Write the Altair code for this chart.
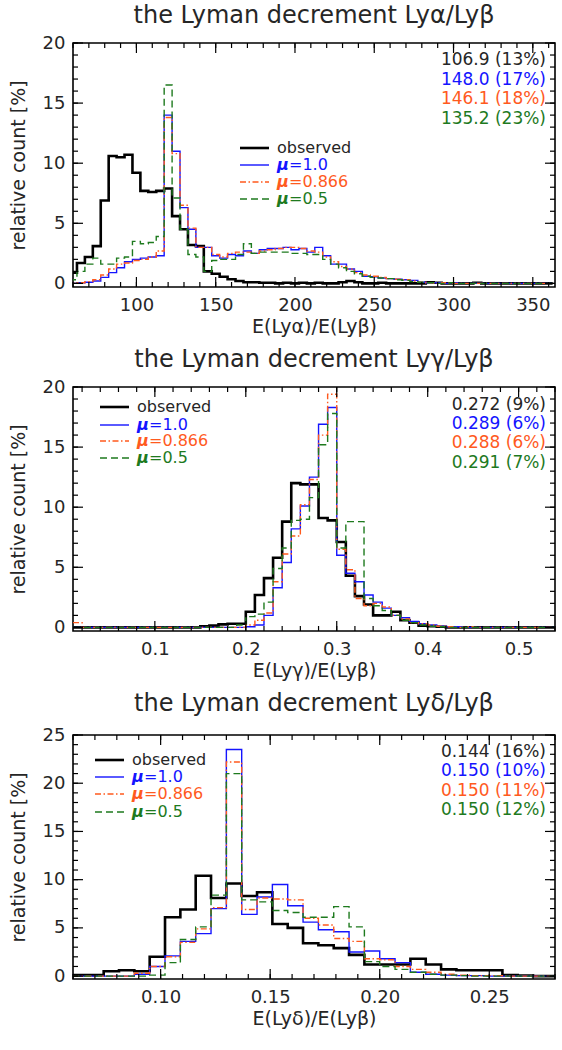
import altair as alt
import numpy as np
import pandas as pd

W, H = 482, 244
FONT = "DejaVu Sans"
INK = "#262626"

# ---------------- Ly-alpha / Ly-beta ----------------
alpha_edge0, alpha_bin = 57.5, 5.0          # first bin edge, bin width (bins centred on 60, 65, ... 360)
alpha_obs = [0.9, 1.7, 2.2, 3.1, 6.9, 10.6, 10.5, 10.7, 9.2, 7.7,
             7.6, 7.7, 7.9, 5.6, 4.5, 3.2, 3.1, 1.0, 0.8, 0.55,
             0.35, 0.2, 0.1, 0.1, 0.05, 0.05, 0.0, 0.05, 0.0, 0.05,
             0.0, 0.05, 0.0, 0.0, 0.1, 0.2, 0.1, 0.0, 0.0, 0.05,
             0.0, 0.0, 0.0, 0.0, 0.0, 0.1, 0.05, 0.0, 0.0, 0.0,
             0.0, 0.05, 0.0, 0.0, 0.0, 0.0, 0.0, 0.0, 0.0, 0.0,
             0.0]
alpha_mu10 = [0.0, 0.05, 0.1, 0.2, 0.5, 0.9, 1.3, 1.8, 2.0, 2.1,
              2.2, 2.3, 14.0, 11.0, 6.3, 4.5, 3.0, 3.0, 2.3, 2.1,
              2.4, 2.3, 2.7, 2.5, 2.8, 2.9, 2.9, 3.0, 2.8, 2.9,
              2.6, 3.0, 2.3, 1.6, 1.6, 1.2, 1.0, 0.6, 0.55, 0.45,
              0.4, 0.35, 0.3, 0.25, 0.1, 0.05, 0.05, 0.0, 0.05, 0.0,
              0.0, 0.0, 0.0, 0.0, 0.0, 0.0, 0.0, 0.0, 0.0, 0.0,
              0.0]
alpha_mu0866 = [0.0, 0.05, 0.15, 0.3, 0.7, 1.2, 1.6, 1.7, 1.9, 2.0,
                2.2, 2.7, 13.8, 10.8, 6.5, 4.6, 3.0, 3.0, 2.4, 2.2,
                2.5, 2.6, 2.6, 2.5, 2.7, 2.8, 2.9, 3.0, 3.0, 2.9,
                2.7, 2.6, 2.2, 1.8, 1.4, 1.2, 0.9, 0.7, 0.6, 0.5,
                0.4, 0.35, 0.3, 0.2, 0.1, 0.05, 0.0, 0.05, 0.0, 0.0,
                0.0, 0.0, 0.0, 0.0, 0.0, 0.0, 0.0, 0.0, 0.0, 0.0,
                0.0]
alpha_mu05 = [0.3, 1.0, 1.6, 2.1, 1.6, 1.6, 2.1, 2.2, 3.5, 3.3,
              3.4, 3.9, 16.5, 7.1, 4.5, 2.4, 2.2, 1.0, 1.9, 2.0,
              2.0, 2.4, 3.3, 2.5, 2.6, 2.6, 2.6, 2.6, 2.5, 2.5,
              2.4, 2.4, 2.0, 1.6, 1.3, 1.0, 0.8, 0.6, 0.5, 0.45,
              0.4, 0.3, 0.25, 0.15, 0.1, 0.05, 0.0, 0.0, 0.05, 0.0,
              0.0, 0.0, 0.0, 0.0, 0.0, 0.0, 0.0, 0.0, 0.0, 0.0,
              0.0]
alpha_stats = ["106.9 (13%)", "148.0 (17%)", "146.1 (18%)", "135.2 (23%)"]

# ---------------- Ly-gamma / Ly-beta ----------------
gamma_edge0, gamma_bin = 0.01, 0.01          # bins centred on 0.015, 0.025, ... 0.535
gamma_obs = [0.0, 0.0, 0.0, 0.0, 0.0, 0.0, 0.0, 0.0, 0.0, 0.0,
             0.0, 0.0, 0.0, 0.0, 0.1, 0.15, 0.25, 0.3, 0.3, 1.3,
             2.7, 4.1, 5.8, 8.8, 12.0, 11.9, 11.9, 9.1, 8.9, 7.1,
             4.3, 2.6, 1.9, 1.0, 1.0, 1.3, 0.6, 0.4, 0.15, 0.1,
             0.05, 0.0, 0.0, 0.0, 0.0, 0.0, 0.0, 0.0, 0.0, 0.0,
             0.0, 0.0, 0.0]
gamma_mu10 = [0.0, 0.0, 0.0, 0.0, 0.0, 0.0, 0.0, 0.0, 0.0, 0.0,
              0.0, 0.0, 0.0, 0.0, 0.0, 0.0, 0.0, 0.0, 0.0, 0.05,
              0.2, 1.0, 3.3, 5.4, 8.2, 10.1, 12.5, 16.9, 18.3, 6.0,
              4.5, 3.8, 2.7, 2.1, 1.6, 1.0, 0.8, 0.5, 0.3, 0.2,
              0.1, 0.05, 0.05, 0.0, 0.0, 0.0, 0.0, 0.0, 0.0, 0.0,
              0.0, 0.0, 0.0]
gamma_mu0866 = [0.4, 0.0, 0.0, 0.0, 0.0, 0.0, 0.0, 0.0, 0.0, 0.0,
                0.0, 0.0, 0.0, 0.0, 0.0, 0.0, 0.0, 0.0, 0.0, 0.2,
                0.6, 1.2, 3.8, 6.1, 7.6, 10.2, 12.3, 16.0, 19.4, 6.5,
                4.8, 2.4, 1.8, 2.0, 1.7, 1.0, 0.7, 0.4, 0.3, 0.2,
                0.1, 0.05, 0.0, 0.05, 0.0, 0.0, 0.0, 0.0, 0.0, 0.0,
                0.0, 0.0, 0.0]
gamma_mu05 = [0.0, 0.0, 0.0, 0.0, 0.0, 0.0, 0.0, 0.0, 0.0, 0.0,
              0.0, 0.0, 0.0, 0.0, 0.0, 0.0, 0.0, 0.0, 0.2, 0.9,
              1.1, 2.1, 4.9, 6.6, 8.9, 9.0, 10.8, 15.2, 17.8, 6.6,
              8.8, 8.8, 2.4, 1.8, 1.4, 1.0, 0.6, 0.4, 0.2, 0.1,
              0.05, 0.0, 0.0, 0.0, 0.0, 0.0, 0.0, 0.0, 0.0, 0.0,
              0.0, 0.0, 0.0]
gamma_stats = ["0.272 (9%)", "0.289 (6%)", "0.288 (6%)", "0.291 (7%)"]

# ---------------- Ly-delta / Ly-beta ----------------
delta_edge0, delta_bin = 0.06, 0.007
delta_obs = [0.1, 0.1, 0.5, 0.6, 0.5, 2.0, 6.1, 6.9, 10.4, 8.1,
             9.6, 8.3, 8.7, 5.4, 5.0, 3.4, 3.2, 2.9, 2.2, 1.2,
             1.2, 1.2, 1.8, 1.2, 0.7, 0.6, 0.6, 0.6, 0.1, 0.05,
             0.0, 0.0]
delta_mu10 = [0.0, 0.0, 0.0, 0.0, 0.2, 1.0, 2.1, 3.6, 4.4, 7.0,
              23.5, 6.4, 8.2, 9.5, 7.3, 5.6, 4.8, 4.6, 2.5, 2.6,
              1.8, 1.4, 0.4, 0.2, 0.1, 0.05, 0.05, 0.0, 0.0, 0.0,
              0.0, 0.0]
delta_mu0866 = [0.0, 0.0, 0.0, 0.0, 0.3, 1.0, 2.0, 3.5, 4.9, 7.1,
                22.2, 6.9, 8.1, 8.0, 7.9, 6.0, 5.3, 3.9, 3.6, 1.8,
                1.7, 1.0, 0.7, 0.4, 0.2, 0.1, 0.05, 0.05, 0.0, 0.0,
                0.0, 0.0]
delta_mu05 = [0.0, 0.0, 0.0, 0.0, 0.0, 0.1, 1.4, 3.8, 5.1, 8.4,
              21.0, 7.9, 7.7, 6.8, 6.6, 6.1, 6.1, 7.2, 5.1, 1.5,
              1.0, 0.7, 0.4, 0.2, 0.1, 0.05, 0.0, 0.0, 0.0, 0.0,
              0.0, 0.0]
delta_stats = ["0.144 (16%)", "0.150 (10%)", "0.150 (11%)", "0.150 (12%)"]

# line styles: observed, mu=1.0, mu=0.866, mu=0.5
STYLES = [
    dict(label="observed", color="#000000", text="#262626", width=2.6, dash=None),
    dict(label="=1.0", color="#1414ff", text="#1414ff", width=1.4, dash=None),
    dict(label="=0.866", color="#ff5a1e", text="#ff5a1e", width=1.4, dash=[6, 2.5, 1.5, 2.5]),
    dict(label="=0.5", color="#1e7a1e", text="#1e7a1e", width=1.4, dash=[7, 4]),
]
ONE = pd.DataFrame({"k": [0]})


def ticks(lo, hi, step):
    n = int(round((hi - lo) / step))
    return [round(lo + i * step, 6) for i in range(n + 1)]


def hist_layer(edge0, width, values, style, xs, ys, xaxis, yaxis):
    edges = edge0 + width * np.arange(len(values) + 1)
    df = pd.DataFrame({"x": edges, "y": list(values) + [values[-1]]})
    kw = dict(interpolate="step-after", color=style["color"],
              strokeWidth=style["width"], clip=True)
    if style["dash"]:
        kw["strokeDash"] = style["dash"]
    return alt.Chart(df).mark_line(**kw).encode(
        x=alt.X("x:Q", scale=xs, axis=xaxis),
        y=alt.Y("y:Q", scale=ys, axis=yaxis),
    )


def frame_ticks(xs, ys, xaxis, yaxis, xmaj, xmin, ymaj, ymin):
    """Inward-pointing major/minor ticks on all four sides of the frame."""
    out = []
    for vals, L in ((xmaj, 10), (xmin, 5)):
        d = pd.DataFrame({"x": vals})
        for y0, y1 in ((H, H - L), (0, L)):
            out.append(alt.Chart(d).mark_rule(color="black", strokeWidth=1.2).encode(
                x=alt.X("x:Q", scale=xs, axis=xaxis),
                y=alt.value(y0), y2=alt.value(y1)))
    for vals, L in ((ymaj, 10), (ymin, 5)):
        d = pd.DataFrame({"y": vals})
        for x0, x1 in ((0, L), (W, W - L)):
            out.append(alt.Chart(d).mark_rule(color="black", strokeWidth=1.2).encode(
                y=alt.Y("y:Q", scale=ys, axis=yaxis),
                x=alt.value(x0), x2=alt.value(x1)))
    return out


def legend(lx0, lx1, tx, rows):
    out = []
    for st, ry in zip(STYLES, rows):
        kw = dict(color=st["color"], strokeWidth=st["width"])
        if st["dash"]:
            kw["strokeDash"] = st["dash"]
        out.append(alt.Chart(ONE).mark_rule(**kw).encode(
            x=alt.value(lx0), x2=alt.value(lx1), y=alt.value(ry)))
        if st["label"] == "observed":
            out.append(alt.Chart(ONE).mark_text(
                text="observed", align="left", baseline="middle", font=FONT,
                fontSize=16, color=st["text"]).encode(x=alt.value(tx), y=alt.value(ry)))
        else:
            out.append(alt.Chart(ONE).mark_text(
                text="μ", align="left", baseline="middle", font=FONT, fontSize=16,
                fontStyle="italic", fontWeight="bold", color=st["text"]).encode(
                x=alt.value(tx), y=alt.value(ry)))
            out.append(alt.Chart(ONE).mark_text(
                text=st["label"], align="left", baseline="middle", font=FONT,
                fontSize=16, color=st["text"]).encode(x=alt.value(tx + 12), y=alt.value(ry)))
    return out


def stats_text(lines, rows):
    out = []
    for st, s, ry in zip(STYLES, lines, rows):
        out.append(alt.Chart(ONE).mark_text(
            text=s, align="right", baseline="middle", font=FONT, fontSize=17,
            color=st["text"]).encode(x=alt.value(W - 9), y=alt.value(ry)))
    return out


def panel(edge0, width, series, xdom, ydom, xmaj, xmin, ymax, xfmt, xtitle, title,
          title_offset, leg, leg_rows, stats, stat_rows):
    xs = alt.Scale(domain=xdom, nice=False, zero=False)
    ys = alt.Scale(domain=ydom, nice=False, zero=False)
    ymaj = ticks(0, ymax, 5)
    ymin = ticks(0, ymax, 1)
    xaxis = alt.Axis(values=xmaj, format=xfmt, title=xtitle, ticks=False, domain=False,
                     grid=False, labelFlush=False, labelPadding=9, titlePadding=3)
    yaxis = alt.Axis(values=ymaj, format="d", title="relative count [%]", ticks=False,
                     domain=False, grid=False, labelPadding=8, titlePadding=14)
    layers = []
    for vals, st in zip(series, STYLES):
        layers.append(hist_layer(edge0, width, vals, st, xs, ys, xaxis, yaxis))
    layers += frame_ticks(xs, ys, xaxis, yaxis, xmaj,
                          [v for v in xmin if xdom[0] <= v <= xdom[1]], ymaj, ymin)
    layers += legend(*leg, leg_rows)
    layers += stats_text(stats, stat_rows)
    return alt.layer(*layers).properties(
        width=W, height=H,
        title=alt.TitleParams(text=title, font=FONT, fontSize=24, fontWeight="normal",
                              color=INK, anchor="middle", offset=title_offset),
    )


p1 = panel(alpha_edge0, alpha_bin, [alpha_obs, alpha_mu10, alpha_mu0866, alpha_mu05],
           [60, 364], [-0.3, 20], [100, 150, 200, 250, 300, 350], ticks(60, 360, 10), 20,
           "d", "E(Lyα)/E(Lyβ)", "the Lyman decrement Lyα/Lyβ", 6,
           (167, 196, 204), [105, 122, 139, 156],
           alpha_stats, [17, 37, 56, 76])
p2 = panel(gamma_edge0, gamma_bin, [gamma_obs, gamma_mu10, gamma_mu0866, gamma_mu05],
           [0.01, 0.54], [-0.3, 20], [0.1, 0.2, 0.3, 0.4, 0.5], ticks(0.02, 0.54, 0.02), 20,
           ".1f", "E(Lyγ)/E(Lyβ)", "the Lyman decrement Lyγ/Lyβ", 6,
           (27, 56, 64), [20, 38, 54, 71],
           gamma_stats, [18, 37, 56, 76])
p3 = panel(delta_edge0, delta_bin, [delta_obs, delta_mu10, delta_mu0866, delta_mu05],
           [0.06, 0.28], [-0.3, 25], [0.10, 0.15, 0.20, 0.25], ticks(0.06, 0.28, 0.01), 25,
           ".2f", "E(Lyδ)/E(Lyβ)", "the Lyman decrement Lyδ/Lyβ", 10,
           (22, 51, 59), [25, 42, 59, 77],
           delta_stats, [17, 36, 56, 75])

chart = alt.vconcat(p1, p2, p3, spacing=10).properties(
    padding={"left": 8, "top": 3, "right": 2, "bottom": 0}
).configure_view(
    stroke="#000000", strokeWidth=1.6
).configure_axis(
    labelFont=FONT, labelFontSize=18, labelColor=INK,
    titleFont=FONT, titleFontSize=19, titleFontWeight="normal", titleColor=INK,
)

chart.save("out.html", embed_options={"renderer": "svg", "actions": False})
